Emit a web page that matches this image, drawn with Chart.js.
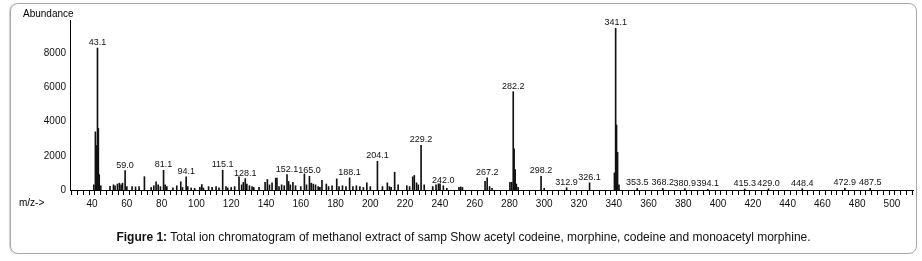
<!DOCTYPE html>
<html>
<head>
<meta charset="utf-8">
<script src="https://cdn.jsdelivr.net/npm/chart.js@4.4.1/dist/chart.umd.min.js"></script>
<style>
  html, body { margin: 0; padding: 0; background: #fff; }
  body { width: 922px; height: 261px; position: relative; overflow: hidden; font-family: Arial, "Liberation Sans", sans-serif; }
  #frame {
    position: absolute; left: 10px; top: 3px; width: 905px; height: 249px;
    border: 1px solid #a8a8a8; border-radius: 8px; box-shadow: -1px 0 1px #d0d0d0;
  }
  #wrap { position: absolute; left: 0; top: 0; width: 922px; height: 261px; }
  .axis-title { position: absolute; font-size: 10px; color: #000; line-height: 10px; }
  #caption {
    position: absolute; left: 10px; width: 907px; top: 230px; text-align: center;
    font-size: 12px; color: #111; line-height: 14px;
  }
</style>
</head>
<body>
<div id="frame"></div>
<div id="wrap"><canvas id="chart" width="922" height="261"></canvas></div>
<div class="axis-title" style="left:23px; top:9px;">Abundance</div>
<div class="axis-title" style="left:19px; top:198px;">m/z-&gt;</div>
<div id="caption"><b>Figure 1:</b> Total ion chromatogram of methanol extract of samp Show acetyl codeine, morphine, codeine and monoacetyl morphine.</div>
<script>
// m/z positions and abundances
const mzValues = [
    41.0, 41.9, 42.5, 43.1, 43.6, 44.1, 45.0, 50.3, 52.3, 53.2, 54.6, 55.7, 56.7, 57.5, 59.0, 60.0,
    63.0, 65.0, 67.0, 70.1, 74.0, 75.5, 76.8, 78.0, 79.3, 81.1, 82.0, 83.0, 86.5, 88.7, 91.0, 92.0,
    94.1, 95.0, 97.0, 99.0, 102.0, 103.1, 104.0, 107.0, 109.0, 111.3, 113.0, 115.1, 117.0, 118.0,
    120.0, 122.0, 124.5, 126.0, 127.0, 128.1, 129.0, 130.5, 132.0, 133.0, 136.0, 139.5, 140.8,
    142.0, 143.5, 145.6, 146.3, 147.5, 149.0, 150.5, 152.1, 153.0, 154.0, 155.5, 157.0, 160.0,
    162.1, 163.3, 165.0, 166.0, 167.2, 168.5, 170.0, 171.0, 172.2, 174.7, 176.0, 178.0, 180.7,
    182.0, 184.0, 186.0, 188.1, 190.0, 192.0, 194.0, 196.0, 198.0, 200.0, 204.1, 207.0, 209.8,
    211.0, 212.0, 214.0, 216.0, 221.0, 222.6, 224.4, 225.3, 226.6, 227.6, 229.2, 231.0, 235.9,
    237.8, 239.2, 240.1, 242.0, 244.0, 251.0, 252.0, 253.0, 266.0, 267.2, 268.6, 270.0, 280.3,
    281.3, 282.2, 282.7, 283.3, 284.0, 285.0, 298.2, 300.0, 312.9, 326.1, 340.4, 341.1, 341.6,
    342.2, 343.0, 353.5, 368.2, 380.9, 394.1, 415.3, 429.0, 448.4, 472.9, 487.5
];
const abundance = [
    300, 3400, 2600, 8300, 3600, 900, 250, 220, 300, 250, 350, 400, 300, 400, 1140, 200,
    200, 180, 200, 780, 150, 250, 480, 300, 200, 1150, 300, 200, 120, 250, 480, 150,
    770, 200, 120, 100, 150, 320, 120, 200, 150, 200, 120, 1150, 200, 120,
    150, 200, 770, 300, 450, 670, 350, 250, 200, 150, 150, 450, 610,
    300, 420, 690, 700, 200, 300, 250, 900, 500, 300, 450, 250, 200,
    940, 300, 800, 400, 350, 300, 200, 150, 570, 350, 200, 250, 650,
    200, 250, 200, 710, 200, 250, 200, 150, 420, 200, 1680, 200, 420,
    200, 150, 1040, 300, 250, 200, 770, 850, 420, 300, 2610, 300, 200,
    300, 360, 360, 250, 100, 150, 180, 150, 510, 710, 200, 100, 450,
    450, 5750, 2400, 1200, 350, 150, 800, 100, 130, 420, 1000, 9450, 3800,
    2200, 300, 90, 90, 80, 40, 60, 70, 80, 100, 90
];

// peaks that carry an m/z annotation
const peakLabels = [
    "43.1", "59.0", "81.1", "94.1", "115.1", "128.1", "152.1", "165.0", "188.1", "204.1",
    "229.2", "242.0", "267.2", "282.2", "298.2", "312.9", "326.1", "341.1", "353.5", "368.2",
    "380.9", "394.1", "415.3", "429.0", "448.4", "472.9", "487.5"
];

const yTicks = [0, 2000, 4000, 6000, 8000];
const xMajorTicks = [40, 60, 80, 100, 120, 140, 160, 180, 200, 220, 240, 260, 280, 300,
    320, 340, 360, 380, 400, 420, 440, 460, 480, 500];

const X_MIN = 27.3;
const X_MAX = 512.1;
const Y_MAX = 9940;

const peakLabelPlugin = {
    id: "peakLabels",
    afterDatasetsDraw(chart) {
        const { ctx, scales } = chart;
        ctx.save();
        ctx.font = "9px Arial, 'Liberation Sans', sans-serif";
        ctx.fillStyle = "#111";
        ctx.textAlign = "center";
        ctx.textBaseline = "alphabetic";
        peakLabels.forEach((txt) => {
            const mz = parseFloat(txt);
            const i = mzValues.indexOf(mz);
            if (i < 0) return;
            const x = scales.x.getPixelForValue(mz);
            const y = scales.y.getPixelForValue(abundance[i]) - 3;
            ctx.fillText(txt, x, y);
        });
        ctx.restore();
    },
};

const ctx = document.getElementById("chart");

new Chart(ctx, {
    type: "bar",
    data: {
        datasets: [
            {
                data: mzValues.map((mz, i) => ({ x: mz, y: abundance[i] })),
                backgroundColor: "#111",
                borderWidth: 0,
                barThickness: 1,
            },
        ],
    },
    options: {
        responsive: false,
        animation: false,
        layout: { padding: { top: 20, right: 9, bottom: 31, left: 0 } },
        plugins: {
            legend: { display: false },
            tooltip: { enabled: false },
        },
        scales: {
            x: {
                type: "linear",
                offset: false,
                min: X_MIN,
                max: X_MAX,
                afterBuildTicks: (scale) => {
                    // 6 minor divisions per labelled interval
                    const ticks = [];
                    for (let k = -3; k <= 141; k++) {
                        const v = 40 + (k * 20) / 6;
                        if (v >= X_MIN && v <= X_MAX) ticks.push({ value: v });
                    }
                    scale.ticks = ticks;
                },
                afterFit: (scale) => { scale.height = 40; },
                grid: {
                    drawOnChartArea: false,
                    drawTicks: true,
                    tickLength: 5,
                    color: "#000",
                },
                border: { display: true, color: "#000", width: 1 },
                ticks: {
                    autoSkip: false,
                    maxRotation: 0,
                    padding: 3,
                    color: "#111",
                    font: { family: "Arial, 'Liberation Sans', sans-serif", size: 10 },
                    callback: (v) => {
                        const r = Math.round(v);
                        return Math.abs(v - r) < 1e-6 && xMajorTicks.includes(r) ? String(r) : "";
                    },
                },
            },
            y: {
                min: 0,
                max: Y_MAX,
                afterBuildTicks: (scale) => {
                    scale.ticks = yTicks.map((v) => ({ value: v }));
                },
                afterFit: (scale) => { scale.width = 70; },
                grid: { display: false, drawTicks: false },
                border: { display: true, color: "#000", width: 1 },
                ticks: {
                    padding: 4,
                    color: "#111",
                    font: { family: "Arial, 'Liberation Sans', sans-serif", size: 10 },
                    callback: (v) => String(v),
                },
            },
        },
    },
    plugins: [peakLabelPlugin],
});
</script>
</body>
</html>
